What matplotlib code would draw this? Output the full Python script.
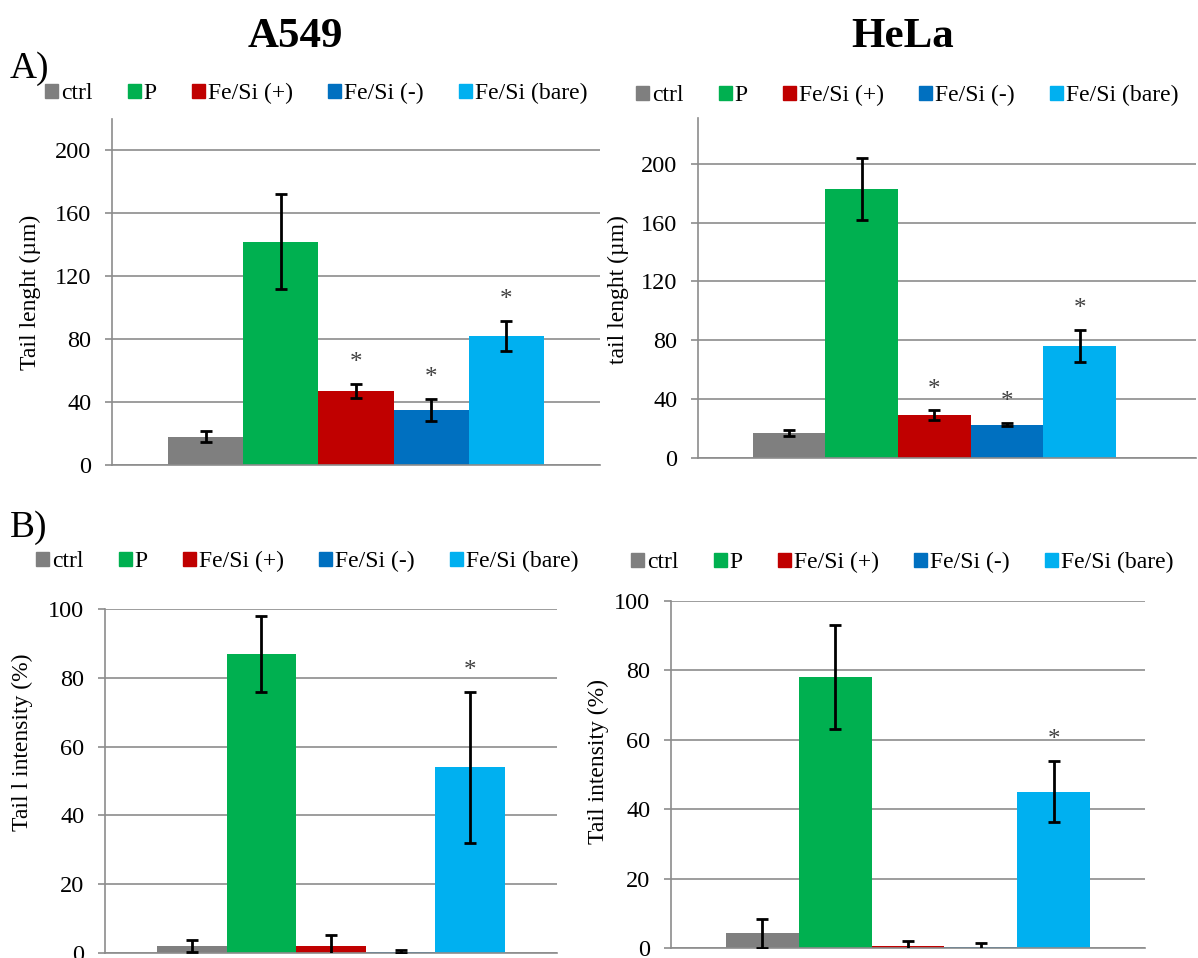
import matplotlib
matplotlib.use("Agg")
import matplotlib.pyplot as plt
from matplotlib.patches import Rectangle
import numpy as np

plt.rcParams["font.family"] = ["Liberation Serif", "DejaVu Serif"]

# -------------------------
# Data
# -------------------------
groups = ["ctrl", "P", "Fe/Si (+)", "Fe/Si (-)", "Fe/Si (bare)"]

a549_len = [18, 142, 47, 35, 82]
a549_len_err = [3.5, 30, 4.5, 7, 9.5]
a549_len_sig = [False, False, True, True, True]

hela_len = [17, 183, 29, 22.6, 76]
hela_len_err = [2, 21, 3.3, 1, 11]
hela_len_sig = [False, False, True, True, True]

a549_int = [2, 87, 2, 0.4, 54]
a549_int_err = [1.8, 11, 3.2, 0.4, 22]
a549_int_sig = [False, False, False, False, True]

hela_int = [4.2, 78, 0.5, 0.3, 45]
hela_int_err = [4.3, 15, 1.4, 1.2, 8.8]
hela_int_sig = [False, False, False, False, True]

len_ticks = [0, 40, 80, 120, 160, 200]
int_ticks = [0, 20, 40, 60, 80, 100]

colors = ["#7F7F7F", "#00B050", "#C00000", "#0070C0", "#00B0F0"]
grid_color = "#8C8C8C"

W, H = 1198, 958


def rect(x0, y0, x1, y1):
    # pixel box (top-left origin) -> figure fraction
    return [x0 / W, 1 - y1 / H, (x1 - x0) / W, (y1 - y0) / H]


def draw_panel(ax, values, errors, sig, ylim, yticks, xlim=(-3.25, 3.25)):
    x = np.arange(len(values)) - (len(values) - 1) / 2
    ax.bar(x, values, width=1.0, color=colors, zorder=2)
    ax.errorbar(x, values, yerr=errors, fmt="none", ecolor="black",
                elinewidth=2, capsize=4.5, capthick=2, zorder=3)
    for xi, v, e, s in zip(x, values, errors, sig):
        if s:
            ax.annotate("*", (xi, v + e), xytext=(0, 15), textcoords="offset points",
                        ha="center", va="center", fontsize=18, color="#404040")
    ax.set_xlim(*xlim)
    ax.set_ylim(*ylim)
    ax.set_yticks(yticks)
    ax.set_xticks([])
    ax.yaxis.grid(True, color=grid_color, linewidth=1.2)
    ax.set_axisbelow(True)
    for side in ["top", "right"]:
        ax.spines[side].set_visible(False)
    for side in ["left", "bottom"]:
        ax.spines[side].set_color(grid_color)
        ax.spines[side].set_linewidth(1.2)
    ax.tick_params(axis="y", length=5, width=1.2, color=grid_color,
                   labelsize=17.5, pad=10)


def add_legend(fig, x_px, y_px):
    handles = [Rectangle((0, 0), 1, 1, color=c) for c in colors]
    fig.legend(handles, groups, loc="lower left",
               bbox_to_anchor=(x_px / W, 1 - y_px / H), ncol=5, frameon=False,
               fontsize=17, handlelength=0.55, handleheight=0.55,
               handletextpad=0.12, columnspacing=1.5, borderpad=0,
               borderaxespad=0)


fig = plt.figure(figsize=(W / 100, H / 100), dpi=100)

ax1 = fig.add_axes(rect(112, 119, 600, 465))
draw_panel(ax1, a549_len, a549_len_err, a549_len_sig, (0, 220), len_ticks)

ax2 = fig.add_axes(rect(698, 118, 1196, 458))
draw_panel(ax2, hela_len, hela_len_err, hela_len_sig, (0, 231), len_ticks,
           xlim=(-3.25, 3.6))

ax3 = fig.add_axes(rect(105, 609, 557, 953))
draw_panel(ax3, a549_int, a549_int_err, a549_int_sig, (0, 100), int_ticks)

ax4 = fig.add_axes(rect(671, 601, 1145, 948))
draw_panel(ax4, hela_int, hela_int_err, hela_int_sig, (0, 100), int_ticks)

# y labels
fig.text(30 / W, 1 - 292 / H, "Tail lenght (µm)", rotation=90,
         ha="center", va="center", fontsize=17)
fig.text(618 / W, 1 - 290 / H, "tail lenght (µm)", rotation=90,
         ha="center", va="center", fontsize=17)
fig.text(22 / W, 1 - 742 / H, "Tail l intensity (%)", rotation=90,
         ha="center", va="center", fontsize=17)
fig.text(598 / W, 1 - 762 / H, "Tail intensity (%)", rotation=90,
         ha="center", va="center", fontsize=17)

# titles and panel letters
fig.text(295 / W, 1 - 47 / H, "A549", ha="center", va="baseline",
         fontsize=31, fontweight="bold")
fig.text(903 / W, 1 - 47 / H, "HeLa", ha="center", va="baseline",
         fontsize=31, fontweight="bold")
fig.text(10 / W, 1 - 78 / H, "A)", ha="left", va="baseline", fontsize=27)
fig.text(10 / W, 1 - 537 / H, "B)", ha="left", va="baseline", fontsize=27)

# legends
add_legend(fig, 45, 104)
add_legend(fig, 636, 106)
add_legend(fig, 36, 572)
add_legend(fig, 631, 573)

fig.savefig("out.png", dpi=100)
